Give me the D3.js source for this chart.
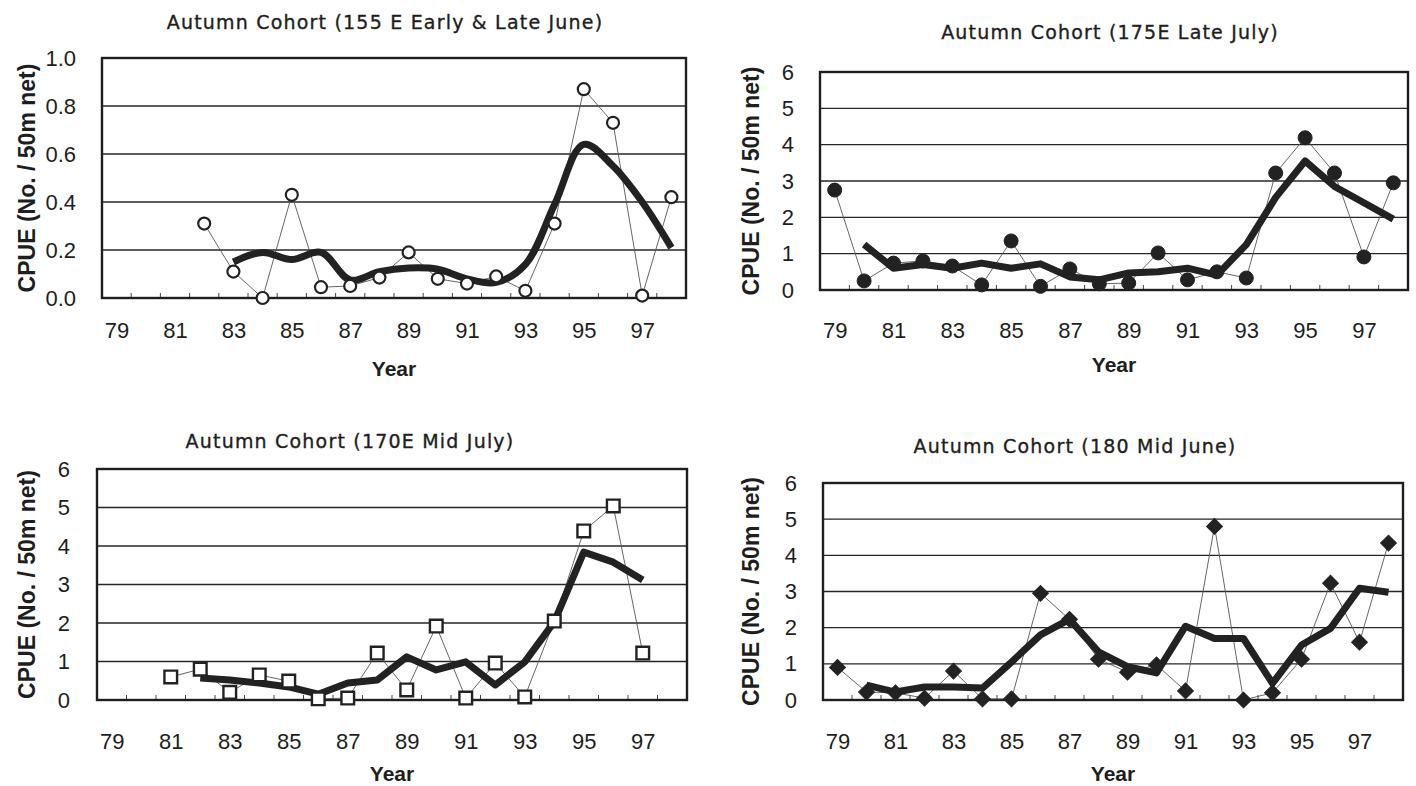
<!DOCTYPE html>
<html>
<head>
<meta charset="utf-8">
<script src="https://cdn.jsdelivr.net/npm/d3@7"></script>
<style>
  body { margin: 0; background: #fff; }
  text { fill: #1e1e1e; }
  .tick text { font-family: "Liberation Sans", Arial, sans-serif; font-size: 22px; }
  .title { font-family: "DejaVu Sans", sans-serif; font-size: 19px; letter-spacing: 1.2px; stroke: #1e1e1e; stroke-width: 0.35px; }
  .ylab { font-family: "Liberation Sans", Arial, sans-serif; font-size: 23px; font-weight: bold; }
  .xlab { font-family: "Liberation Sans", Arial, sans-serif; font-size: 21px; font-weight: bold; }
</style>
</head>
<body>
<svg id="chart" width="1416" height="786"></svg>
<script>
const years = ["79","80","81","82","83","84","85","86","87","88","89","90","91","92","93","94","95","96","97","98"];
const yearLabels = ["79","81","83","85","87","89","91","93","95","97"];

// 155E Early & Late June (from 82)
const cpue155 = [null,null,null,0.31,0.11,0.0,0.43,0.045,0.05,0.085,0.19,0.08,0.06,0.09,0.03,0.31,0.87,0.73,0.01,0.42];
const smooth155 = [null,null,null,null,0.15,0.19,0.16,0.19,0.075,0.11,0.125,0.12,0.08,0.065,0.14,0.39,0.64,0.55,0.40,0.21];

// 175E Late July
const cpue175 = [2.75,0.25,0.74,0.8,0.66,0.14,1.35,0.1,0.58,0.17,0.19,1.02,0.28,0.5,0.33,3.22,4.19,3.22,0.91,2.95];
const smooth175 = [null,1.25,0.6,0.7,0.6,0.74,0.6,0.72,0.36,0.28,0.47,0.5,0.6,0.41,1.25,2.55,3.55,2.85,2.4,1.95];

// 170E Mid July
const cpue170 = [null,null,0.6,0.8,0.2,0.65,0.49,0.03,0.05,1.22,0.26,1.92,0.05,0.96,0.08,2.05,4.39,5.04,1.22,null];
const smooth170 = [null,null,null,0.57,0.52,0.44,0.34,0.15,0.44,0.52,1.12,0.78,0.99,0.39,0.99,2.03,3.84,3.58,3.12,null];

// 180 Mid June
const cpue180 = [0.9,0.22,0.2,0.05,0.8,0.03,0.03,2.95,2.23,1.13,0.77,0.97,0.25,4.8,0.0,0.2,1.13,3.23,1.6,4.34];
const smooth180 = [null,0.41,0.22,0.36,0.36,0.33,1.05,1.8,2.23,1.33,0.92,0.75,2.04,1.7,1.7,0.46,1.52,1.98,3.09,2.98];

const panels = [
  { title: "Autumn Cohort (155 E Early & Late June)", raw: cpue155, smooth: smooth155, marker: "circle-open",
    box: { l: 102, r: 686, t: 58, b: 298 }, ymax: 1.0, yticks: [0, 0.2, 0.4, 0.6, 0.8, 1.0], fmt: d3.format(".1f"),
    titleX: 385, titleY: 22, ylabX: 27, tickX: 76, xlabY: 330, yearY: 369, curve: d3.curveCatmullRom },
  { title: "Autumn Cohort (175E Late July)", raw: cpue175, smooth: smooth175, marker: "circle-filled",
    box: { l: 820, r: 1408, t: 72, b: 290 }, ymax: 6, yticks: [0,1,2,3,4,5,6], fmt: d3.format("d"),
    titleX: 1110, titleY: 32, ylabX: 751, tickX: 794, xlabY: 330, yearY: 365, curve: d3.curveLinear },
  { title: "Autumn Cohort (170E Mid July)", raw: cpue170, smooth: smooth170, marker: "square-open",
    box: { l: 97, r: 687, t: 469, b: 700 }, ymax: 6, yticks: [0,1,2,3,4,5,6], fmt: d3.format("d"),
    titleX: 350, titleY: 441, ylabX: 27, tickX: 70, xlabY: 741, yearY: 774, curve: d3.curveLinear },
  { title: "Autumn Cohort (180  Mid June)", raw: cpue180, smooth: smooth180, marker: "diamond",
    box: { l: 823, r: 1403, t: 483, b: 700 }, ymax: 6, yticks: [0,1,2,3,4,5,6], fmt: d3.format("d"),
    titleX: 1075, titleY: 446, ylabX: 751, tickX: 797, xlabY: 741, yearY: 774, curve: d3.curveLinear }
];

const svg = d3.select("#chart");

panels.forEach((p) => {
  const g = svg.append("g");
  const b = p.box;

  const x = d3.scaleBand().domain(years).range([b.l, b.r]);
  const cx = (yr) => x(yr) + x.bandwidth() / 2;
  const y = d3.scaleLinear().domain([0, p.ymax]).range([b.b, b.t]);

  // gridlines
  g.append("g")
    .selectAll("line")
    .data(p.yticks)
    .enter()
    .append("line")
    .attr("x1", b.l)
    .attr("x2", b.r)
    .attr("y1", (d) => y(d))
    .attr("y2", (d) => y(d))
    .style("stroke", "#262626")
    .style("stroke-width", 1.4);

  // small ticks between categories
  g.append("g")
    .selectAll("line")
    .data(years.slice(1))
    .enter()
    .append("line")
    .attr("x1", (d) => x(d))
    .attr("x2", (d) => x(d))
    .attr("y1", b.b)
    .attr("y2", b.b - 5)
    .style("stroke", "#444")
    .style("stroke-width", 1);

  // frame
  g.append("rect")
    .attr("x", b.l)
    .attr("y", b.t)
    .attr("width", b.r - b.l)
    .attr("height", b.b - b.t)
    .style("fill", "none")
    .style("stroke", "#1e1e1e")
    .style("stroke-width", 2.4);

  // y axis labels
  const yAxis = g.append("g")
    .attr("transform", "translate(" + p.tickX + ",0)")
    .call(d3.axisLeft(y).tickValues(p.yticks).tickSize(0).tickFormat(p.fmt));
  yAxis.select(".domain").remove();
  yAxis.selectAll("text").attr("x", 0);

  // x axis labels
  const xLab = d3.scalePoint().domain(years).range([cx(years[0]), cx(years[years.length - 1])]);
  const xAxis = g.append("g")
    .attr("transform", "translate(0," + p.xlabY + ")")
    .call(d3.axisBottom(xLab).tickValues(yearLabels).tickSize(0));
  xAxis.select(".domain").remove();
  xAxis.selectAll("text").attr("y", 0).attr("dy", "0.35em");

  // titles
  g.append("text")
    .attr("class", "title")
    .attr("x", p.titleX)
    .attr("y", p.titleY)
    .attr("dy", "0.35em")
    .attr("text-anchor", "middle")
    .text(p.title);

  g.append("text")
    .attr("class", "ylab")
    .attr("transform", "translate(" + p.ylabX + "," + (b.t + b.b) / 2 + ") rotate(-90)")
    .attr("dy", "0.35em")
    .attr("text-anchor", "middle")
    .text("CPUE (No. / 50m net)");

  g.append("text")
    .attr("class", "xlab")
    .attr("x", (b.l + b.r) / 2)
    .attr("y", p.yearY)
    .attr("dy", "0.35em")
    .attr("text-anchor", "middle")
    .text("Year");

  const rawPts = years.map((yr, i) => [yr, p.raw[i]]).filter((d) => d[1] !== null);
  const smoothPts = years.map((yr, i) => [yr, p.smooth[i]]).filter((d) => d[1] !== null);

  // thin connecting line
  g.append("path")
    .datum(rawPts)
    .attr("d", d3.line().x((d) => cx(d[0])).y((d) => y(d[1])))
    .style("fill", "none")
    .style("stroke", "#555")
    .style("stroke-width", 0.9);

  // thick smoothed line
  g.append("path")
    .datum(smoothPts)
    .attr("d", d3.line().x((d) => cx(d[0])).y((d) => y(d[1])).curve(p.curve))
    .style("fill", "none")
    .style("stroke", "#222")
    .style("stroke-width", 7)
    .style("stroke-linejoin", "round")
    .style("stroke-linecap", "butt");

  // markers
  const mk = g.append("g");
  if (p.marker === "circle-open" || p.marker === "circle-filled") {
    const open = p.marker === "circle-open";
    mk.selectAll("circle")
      .data(rawPts)
      .enter()
      .append("circle")
      .attr("cx", (d) => cx(d[0]))
      .attr("cy", (d) => y(d[1]))
      .attr("r", open ? 6 : 7)
      .style("fill", open ? "#fff" : "#222")
      .style("stroke", "#222")
      .style("stroke-width", open ? 2.2 : 1);
  } else {
    const diamond = p.marker === "diamond";
    mk.selectAll("path")
      .data(rawPts)
      .enter()
      .append("path")
      .attr("transform", (d) => "translate(" + cx(d[0]) + "," + y(d[1]) + ")" + (diamond ? " rotate(45)" : ""))
      .attr("d", d3.symbol().type(d3.symbolSquare).size(diamond ? 125 : 160))
      .style("fill", diamond ? "#222" : "#fff")
      .style("stroke", "#222")
      .style("stroke-width", diamond ? 1 : 2.4);
  }
});
</script>
</body>
</html>
